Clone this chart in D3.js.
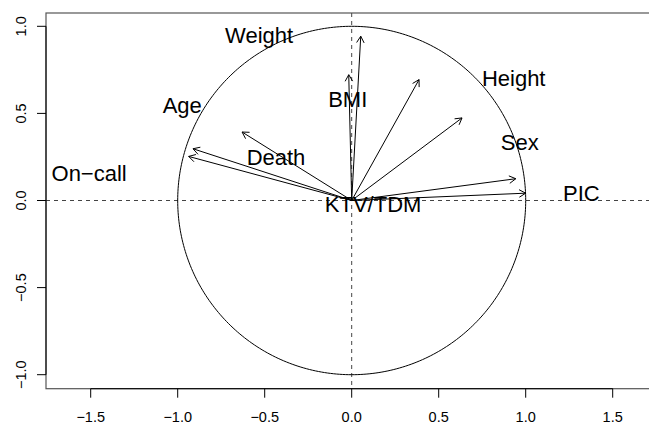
<!DOCTYPE html>
<html>
<head>
<meta charset="utf-8">
<script src="https://cdn.jsdelivr.net/npm/d3@7"></script>
<style>
  html, body { margin: 0; padding: 0; background: #fff; }
  svg { display: block; }
  text { font-family: "Liberation Sans", Arial, Helvetica, sans-serif; fill: #000; }
</style>
</head>
<body>
<script>
// ---- data ----
const arrowX = [0.052, -0.017, 0.387, 0.634, 0.943, 1.000, -0.630, -0.912, -0.937];
const arrowY = [0.943, 0.722, 0.694, 0.474, 0.125, 0.042, 0.393, 0.297, 0.253];

const labelNames = ["Weight", "Age", "On\u2212call", "Death", "BMI", "Height", "Sex", "PIC", "KTV/TDM"];
const labelX = [-0.532, -0.974, -1.509, -0.435, -0.023, 0.931, 0.966, 1.320, 0.123];
const labelY = [0.951, 0.545, 0.155, 0.247, 0.580, 0.703, 0.333, 0.040, -0.020];

const xTicks = [-1.5, -1.0, -0.5, 0.0, 0.5, 1.0, 1.5];
const yTicks = [-1.0, -0.5, 0.0, 0.5, 1.0];

// ---- layout ----
const W = 649, H = 426;
const plotLeft = 46, plotTop = 13, plotBottom = 388.7, plotRight = 680;

const x = d3.scaleLinear().domain([-1.5, 1.5]).range([90.7, 612.7]);
const y = d3.scaleLinear().domain([-1, 1]).range([374.7, 26.3]);

const svg = d3.select("body").append("svg").attr("width", W).attr("height", H);

// box
svg.append("rect")
  .attr("x", plotLeft).attr("y", plotTop)
  .attr("width", plotRight - plotLeft).attr("height", plotBottom - plotTop)
  .attr("fill", "none").attr("stroke", "#555").attr("stroke-width", 1.2);

// reference dashed lines
svg.append("line")
  .attr("x1", plotLeft).attr("x2", W)
  .attr("y1", y(0)).attr("y2", y(0))
  .attr("stroke", "#444").attr("stroke-dasharray", "4,4");
svg.append("line")
  .attr("x1", x(0)).attr("x2", x(0))
  .attr("y1", plotTop).attr("y2", plotBottom)
  .attr("stroke", "#444").attr("stroke-dasharray", "4,4");

// unit circle
const circ = d3.range(0, 361, 1).map(a => [Math.cos(a * Math.PI / 180), Math.sin(a * Math.PI / 180)]);
svg.append("path")
  .attr("d", d3.line().x(d => x(d[0])).y(d => y(d[1]))(circ))
  .attr("fill", "none").attr("stroke", "#000").attr("stroke-width", 1);

// arrows
const headLen = 7.5, headAng = 30 * Math.PI / 180;
const ag = svg.append("g").attr("stroke", "#000").attr("stroke-width", 1).attr("fill", "none");
arrowX.forEach((ax, i) => {
  const x0 = x(0), y0 = y(0), x1 = x(ax), y1 = y(arrowY[i]);
  ag.append("line").attr("x1", x0).attr("y1", y0).attr("x2", x1).attr("y2", y1);
  const th = Math.atan2(y1 - y0, x1 - x0);
  const p1 = [x1 - headLen * Math.cos(th - headAng), y1 - headLen * Math.sin(th - headAng)];
  const p2 = [x1 - headLen * Math.cos(th + headAng), y1 - headLen * Math.sin(th + headAng)];
  ag.append("path").attr("d", `M${p1[0]},${p1[1]}L${x1},${y1}L${p2[0]},${p2[1]}`);
});

// labels
labelNames.forEach((name, i) => {
  svg.append("text")
    .attr("x", x(labelX[i])).attr("y", y(labelY[i]))
    .attr("dy", "0.35em")
    .attr("text-anchor", "middle")
    .attr("font-size", 22)
    .text(name);
});

// x axis
const fmt = v => (v < 0 ? "\u2212" : "") + Math.abs(v).toFixed(1);
const xa = svg.append("g");
xa.append("line").attr("x1", x(-1.5)).attr("x2", x(1.5)).attr("y1", plotBottom).attr("y2", plotBottom)
  .attr("stroke", "#000");
xTicks.forEach(t => {
  xa.append("line").attr("x1", x(t)).attr("x2", x(t)).attr("y1", plotBottom).attr("y2", plotBottom + 9)
    .attr("stroke", "#000");
  xa.append("text").attr("x", x(t)).attr("y", 422).attr("text-anchor", "middle")
    .attr("font-size", 14.5).text(fmt(t));
});

// y axis
const ya = svg.append("g");
ya.append("line").attr("x1", plotLeft).attr("x2", plotLeft).attr("y1", y(-1)).attr("y2", y(1))
  .attr("stroke", "#000");
yTicks.forEach(t => {
  ya.append("line").attr("x1", plotLeft - 9).attr("x2", plotLeft).attr("y1", y(t)).attr("y2", y(t))
    .attr("stroke", "#000");
  ya.append("text")
    .attr("transform", `translate(25.5,${y(t)}) rotate(-90)`)
    .attr("text-anchor", "middle")
    .attr("font-size", 14.5).text(fmt(t));
});
</script>
</body>
</html>
